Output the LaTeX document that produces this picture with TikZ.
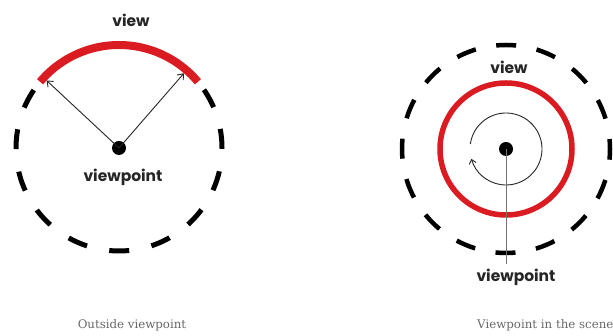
\documentclass[tikz,border=0pt]{standalone}
\usepackage{fontspec}
\newfontfamily\labelfont{Poppins}
\newfontfamily\capfont{DejaVu Serif}
\usetikzlibrary{arrows.meta,calc}
\definecolor{viewred}{RGB}{218,28,34}
\definecolor{capgray}{RGB}{105,105,105}
\tikzset{
  lbl/.style={font=\labelfont\bfseries\fontsize{15.5}{18}\selectfont, text=black!85, inner sep=0pt},
  captext/.style={font=\capfont\fontsize{11.8}{14}\selectfont, text=capgray, inner sep=0pt},
  vdot/.style={circle, fill=black, minimum size=14pt, inner sep=0pt},
  redarc/.style={draw=viewred, line width=8pt},
  redring/.style={draw=viewred, line width=5.5pt},
  dashring/.style={draw=black, line width=4.5pt, dash pattern=on 20pt off 20.8pt, dash phase=10pt},
  dasharc/.style={draw=black, line width=5pt, dash pattern=on 20pt off 22.7pt, dash phase=32.7pt},
  thinarrow/.style={draw=black!85, line width=0.9pt, -{Straight Barb[length=5pt,width=8pt]}},
  guide/.style={draw=black!55, line width=0.6pt}
}
\begin{document}
\begin{tikzpicture}[x=1pt,y=1pt]
\useasboundingbox (0,0) rectangle (613,336);
\fill[white] (0,0) rectangle (613,336);
% ---------- left: outside viewpoint ----------
\coordinate (lc) at (119,188);
\draw[dasharc] ($(lc)+(40:103)$) arc[start angle=40, end angle=-220, radius=103];
\draw[redarc] ($(lc)+(40:103)$) arc[start angle=40, end angle=140, radius=103];
\node[vdot] (ldot) at (lc) {};
\coordinate (lt1) at ($(lc)+(137:99)$);
\coordinate (lt2) at ($(lc)+(49:99)$);
\draw[thinarrow] (ldot.center) -- (lt1);
\draw[thinarrow] (ldot.center) -- (lt2);
\node[lbl] (lview) at (131,316) {view};
\node[lbl] (lvp) at (123,159) {viewpoint};
\node[captext] (lcap) at (132,11) {Outside viewpoint};
% ---------- right: viewpoint in the scene ----------
\coordinate (rc) at (506,187);
\draw[dashring] (rc) circle[radius=104];
\draw[redring] (rc) circle[radius=66];
\draw[draw=black!85, line width=0.9pt, -{Straight Barb[length=4pt,width=7pt]}]
  ($(rc)+(172:36)$) arc[start angle=172, end angle=-164, radius=36];
\node[vdot] (rdot) at (rc) {};
\node[lbl] (rview) at (509,269) {view};
\node[lbl] (rvp) at (516,59) {viewpoint};
\coordinate (rlineend) at (506,72);
\draw[guide] (rdot.center) -- (rlineend);
\node[captext, anchor=west] (rcap) at (477,11) {Viewpoint in the scene};
\end{tikzpicture}
\end{document}
